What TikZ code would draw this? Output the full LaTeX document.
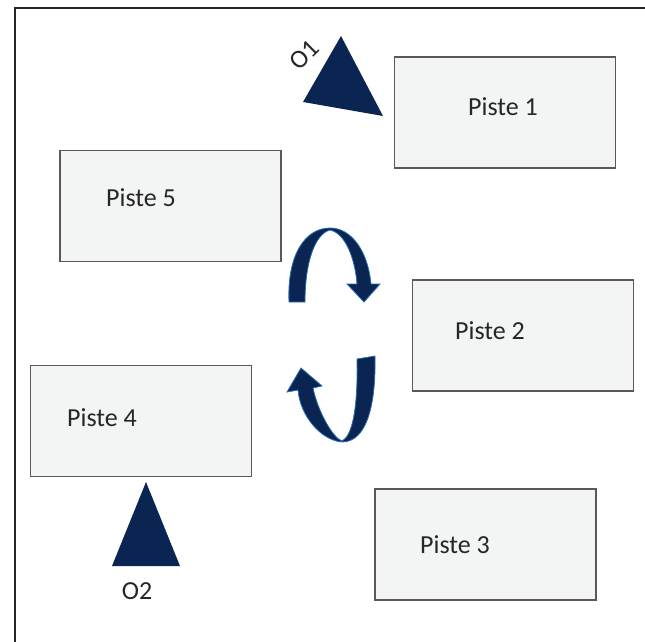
\documentclass[tikz,border=0pt]{standalone}
\usepackage{fontspec}
\setmainfont{Carlito}
\usetikzlibrary{arrows.meta,shapes}
\definecolor{navy}{HTML}{0B2553}
\definecolor{rim}{HTML}{2A6CB5}
\definecolor{pale}{HTML}{F3F4F4}

\begin{document}
\begin{tikzpicture}[x=1pt,y=-1pt]
	\tikzstyle{P} = [draw=black!65,fill=pale,line width=1.3pt,minimum width=221pt,minimum height=111pt,inner sep=0pt]
	\tikzstyle{T} = [font=\fontsize{26}{30}\selectfont,inner sep=0pt,text=black!85]
	\tikzstyle{turn} = [fill=navy,draw=rim,line width=0.8pt]
	\useasboundingbox (0,0) rectangle (645,642);
	\draw[line width=2pt,color=black!85](15,642) -- (15,8) -- (645,8);
	% pistes
	\node[P](P1) at (505,112.5) {};
	\node[T](t1) at (503,107) {Piste 1};
	\node[P](P5) at (170.5,206) {};
	\node[T](t5) at (141,198) {Piste 5};
	\node[P](P2) at (523,335.5) {};
	\node[T](t2) at (490,331) {Piste 2};
	\node[P](P4) at (141,421) {};
	\node[T](t4) at (102,418) {Piste 4};
	\node[P](P3) at (485.5,544.5) {};
	\node[T](t3) at (455,545) {Piste 3};
	% observers
	\fill[navy](341,36) -- (303,102) -- (383,116) -- cycle;
	\node[T,rotate=45](o1) at (304,55) {O1};
	\fill[navy](146,482) -- (112,566) -- (180,566) -- cycle;
	\node[T](o2) at (137,591) {O2};
	% rotation arrows
	\draw[turn](289,302) .. controls (287,255) and (305,228) .. (330,228) .. controls (352,228) and (368,252) .. (371,284) -- (380,284) -- (364,302) -- (347,284) -- (357,284) .. controls (355,258) and (345,233) .. (330,230) .. controls (315,234) and (305,262) .. (305,302) -- cycle;
	\draw[turn](375,356) .. controls (376,410) and (365,442) .. (342,442) .. controls (320,440) and (300,415) .. (298,390) -- (287,392) -- (301,368) -- (322,386) -- (313,388) .. controls (318,412) and (333,438) .. (342,441) .. controls (352,436) and (358,410) .. (357,359) -- cycle;
\end{tikzpicture}
\end{document}
